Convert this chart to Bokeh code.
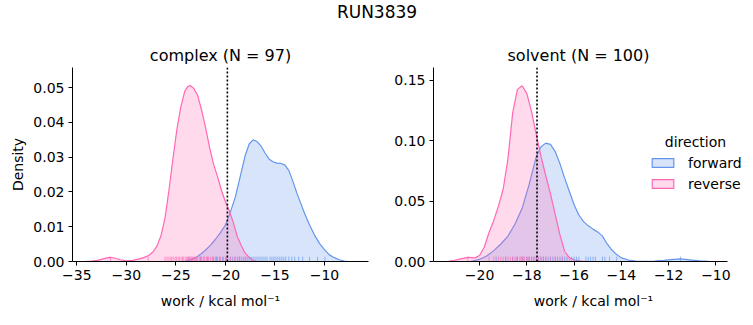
from bokeh.plotting import figure
from bokeh.models import Range1d, FixedTicker, Span, Legend, LegendItem, Label
from bokeh.layouts import column, row
from bokeh.embed import file_html
from bokeh.resources import INLINE

FONT = "DejaVu Sans"
suptitle = "RUN3839"
directions = ["forward", "reverse"]
colors = {"forward": "#6495ED", "reverse": "#FF69B4"}

# ---- complex panel ----
complex_title = "complex (N = 97)"
complex_xticks = [-35, -30, -25, -20, -15, -10]
complex_yticks = [0.0, 0.01, 0.02, 0.03, 0.04, 0.05]
complex_mean = -19.8

complex_fwd_x = [-24.2, -23.6, -23.0, -22.5, -22.0, -21.5, -21.0, -20.5, -20.0, -19.5, -19.0, -18.5,
                 -18.0, -17.6, -17.2, -16.8, -16.4, -16.0, -15.6, -15.2, -14.8, -14.4, -14.0, -13.6,
                 -13.2, -12.8, -12.4, -12.0, -11.5, -11.0, -10.5, -10.0, -9.5, -9.0, -8.5, -8.0, -7.6]
complex_fwd_y = [0.0, 0.0004, 0.0011, 0.0021, 0.0033, 0.0047, 0.0064, 0.0083, 0.0105, 0.0142, 0.0185,
                 0.0245, 0.0305, 0.0338, 0.035, 0.0345, 0.0332, 0.0312, 0.0295, 0.0287, 0.0283, 0.0282,
                 0.0278, 0.0262, 0.0232, 0.0198, 0.0168, 0.0138, 0.0105, 0.0076, 0.0052, 0.0034,
                 0.0019, 0.0011, 0.0005, 0.0001, 0.0]
complex_rev_x = [-34.2, -33.5, -32.8, -32.2, -31.7, -31.2, -30.6, -30.0, -29.4, -28.8, -28.2, -27.7,
                 -27.3, -26.9, -26.5, -26.1, -25.7, -25.3, -24.9, -24.5, -24.1, -23.8, -23.55, -23.2,
                 -22.8, -22.4, -22.0, -21.6, -21.2, -20.8, -20.4, -20.0, -19.6, -19.2, -18.8, -18.4,
                 -18.0, -17.6, -17.2, -16.8]
complex_rev_y = [0.0, 0.0001, 0.0004, 0.0009, 0.0012, 0.001, 0.0005, 0.0002, 0.0003, 0.0007, 0.0012,
                 0.0018, 0.0028, 0.0045, 0.0075, 0.0125, 0.0205, 0.0295, 0.038, 0.0445, 0.049, 0.0503,
                 0.0506, 0.0498, 0.0478, 0.0435, 0.0385, 0.0328, 0.028, 0.0245, 0.0205, 0.0172,
                 0.0145, 0.0112, 0.0072, 0.0046, 0.0024, 0.0012, 0.0003, 0.0]
complex_fwd_rug = [-23.7, -22.5, -21.8, -21.2, -20.9, -20.6, -20.3, -20.0, -19.8, -19.5, -19.3, -19.0,
                   -18.8, -18.6, -18.4, -18.2, -18.0, -17.8, -17.6, -17.4, -17.2, -17.0, -16.8, -16.6,
                   -16.4, -16.2, -16.0, -15.8, -15.5, -15.3, -15.1, -14.9, -14.7, -14.5, -14.3, -14.1,
                   -13.9, -13.6, -13.3, -13.0, -12.6, -12.2, -11.5, -10.7, -9.95]
complex_rev_rug = [-31.6, -27.8, -26.1, -25.9, -25.7, -25.5, -25.4, -25.2, -25.0, -24.9, -24.7, -24.6,
                   -24.4, -24.3, -24.2, -24.0, -23.9, -23.8, -23.7, -23.6, -23.5, -23.4, -23.3, -23.2,
                   -23.1, -23.0, -22.9, -22.8, -22.6, -22.5, -22.4, -22.2, -22.1, -21.9, -21.7, -21.5,
                   -21.3, -21.0, -20.8, -20.5, -20.2, -19.9, -19.5, -19.1, -18.6, -18.0]

# ---- solvent panel ----
solvent_title = "solvent (N = 100)"
solvent_xticks = [-20, -18, -16, -14, -12, -10]
solvent_yticks = [0.0, 0.05, 0.10, 0.15]
solvent_mean = -17.57

solvent_fwd_x = [-20.4, -20.0, -19.7, -19.4, -19.1, -18.8, -18.5, -18.2, -17.9, -17.6, -17.4, -17.2,
                 -17.0, -16.8, -16.6, -16.4, -16.2, -16.0, -15.8, -15.6, -15.4, -15.2, -15.0, -14.8,
                 -14.6, -14.4, -14.2, -14.0, -13.7, -13.4, -13.0, -12.6, -12.2, -11.9, -11.5, -11.1,
                 -10.7, -10.3, -10.0]
solvent_fwd_y = [0.0, 0.0018, 0.0045, 0.009, 0.0145, 0.021, 0.031, 0.044, 0.064, 0.087, 0.095, 0.098,
                 0.097, 0.091, 0.081, 0.069, 0.058, 0.047, 0.0385, 0.033, 0.0295, 0.0268, 0.0245,
                 0.021, 0.0145, 0.0095, 0.0057, 0.003, 0.0012, 0.0004, 0.0002, 0.0003, 0.0009, 0.0016,
                 0.0021, 0.0014, 0.0005, 0.0001, 0.0]
solvent_rev_x = [-21.4, -21.1, -20.8, -20.5, -20.2, -20.0, -19.8, -19.6, -19.4, -19.2, -19.0, -18.8,
                 -18.6, -18.4, -18.2, -18.0, -17.8, -17.6, -17.4, -17.2, -17.0, -16.8, -16.6, -16.4,
                 -16.2, -16.0, -15.7, -15.4]
solvent_rev_y = [0.0, 0.0008, 0.0022, 0.0034, 0.003, 0.005, 0.012, 0.024, 0.034, 0.046, 0.06, 0.085,
                 0.123, 0.1425, 0.1455, 0.139, 0.124, 0.105, 0.087, 0.071, 0.056, 0.039, 0.022, 0.0085,
                 0.003, 0.0012, 0.0003, 0.0]
solvent_fwd_rug = [-19.3, -18.9, -18.6, -18.4, -18.2, -18.0, -17.9, -17.8, -17.7, -17.6, -17.5, -17.4,
                   -17.3, -17.2, -17.1, -17.0, -16.9, -16.8, -16.7, -16.6, -16.5, -16.4, -16.3, -16.1,
                   -16.0, -15.9, -15.8, -15.5, -15.4, -15.3, -15.2, -15.1, -14.8, -14.7, -14.5, -14.2,
                   -11.5]
solvent_rev_rug = [-20.5, -19.6, -19.4, -19.2, -19.1, -19.0, -18.9, -18.8, -18.7, -18.6, -18.5, -18.45,
                   -18.4, -18.3, -18.25, -18.2, -18.15, -18.1, -18.0, -17.95, -17.9, -17.8, -17.7,
                   -17.6, -17.5, -17.4, -17.3, -17.2, -17.0, -16.8, -16.5, -16.2]

xlabel = "work / kcal mol\u207b\u00b9"
ylabel = "Density"


def minus(v, fmt):
    return (fmt % v).replace("-", "\u2212")


def panel(title, xr, axis_xr, yr, xticks, yticks, yfmt, curves, rugs, mean, width, mbl, mbr,
          show_ylabel):
    p = figure(width=width, height=299, output_backend="svg", toolbar_location=None,
               x_range=Range1d(*xr), y_range=Range1d(*yr),
               min_border_left=mbl, min_border_right=mbr, min_border_top=41, min_border_bottom=64)
    p.title.text = title
    p.title.align = "center"
    p.title.text_font = FONT
    p.title.text_font_size = "16px"
    p.title.text_font_style = "normal"
    p.title.text_color = "black"
    p.title.standoff = 5
    p.outline_line_color = None
    p.grid.visible = False
    p.background_fill_color = "white"
    renderers = {}
    for d in directions:
        xs, ys = curves[d]
        r = p.patch(xs, ys, fill_color=colors[d], fill_alpha=0.25,
                    line_color=colors[d], line_width=1.2)
        renderers[d] = r
    rug_h = 0.025 * (yr[1] - yr[0])
    for d in directions:
        vals = rugs[d]
        p.segment(x0=vals, y0=[0] * len(vals), x1=vals, y1=[rug_h] * len(vals),
                  line_color=colors[d], line_alpha=0.65, line_width=1)
    p.add_layout(Span(location=mean, dimension="height", line_color="black",
                      line_dash="2 2", line_width=1.6))
    for ax in (p.xaxis[0], p.yaxis[0]):
        ax.major_label_text_font = FONT
        ax.major_label_text_font_size = "14px"
        ax.major_label_text_color = "black"
        ax.axis_label_text_font = FONT
        ax.axis_label_text_font_size = "14px"
        ax.axis_label_text_font_style = "normal"
        ax.axis_label_text_color = "black"
        ax.minor_tick_line_color = None
        ax.major_tick_in = 0
        ax.major_tick_out = 4
        ax.axis_line_color = "black"
        ax.major_tick_line_color = "black"
    p.xaxis.bounds = axis_xr
    p.xaxis.ticker = FixedTicker(ticks=xticks)
    p.xaxis.major_label_overrides = {t: minus(t, "%d") for t in xticks}
    p.xaxis.axis_label = xlabel
    p.xaxis.major_label_standoff = 4
    p.xaxis.axis_label_standoff = 10
    p.yaxis.ticker = FixedTicker(ticks=yticks)
    p.yaxis.major_label_standoff = 4
    p.yaxis.major_label_overrides = {t: yfmt % t for t in yticks}
    if show_ylabel:
        p.yaxis.axis_label = ylabel
        p.yaxis.axis_label_standoff = 4
    return p, renderers


p1, r1 = panel(complex_title, (-35.44, -5.55), (-35.44, -5.55), (0, 0.0558),
               complex_xticks, complex_yticks, "%.2f",
               {"forward": (complex_fwd_x, complex_fwd_y), "reverse": (complex_rev_x, complex_rev_y)},
               {"forward": complex_fwd_rug, "reverse": complex_rev_rug},
               complex_mean, 385, 72, 17, True)
p2, r2 = panel(solvent_title, (-21.95, -8.41), (-21.95, -9.53), (0, 0.1606),
               solvent_xticks, solvent_yticks, "%.2f",
               {"forward": (solvent_fwd_x, solvent_fwd_y), "reverse": (solvent_rev_x, solvent_rev_y)},
               {"forward": solvent_fwd_rug, "reverse": solvent_rev_rug},
               solvent_mean, 368, 48, 0, False)
# the solvent title is centred over the drawn axes, not the widened frame
p2.title.align = "left"
p2.title.offset = 74

legend = Legend(items=[LegendItem(label=d, renderers=[r2[d]]) for d in directions],
                location=(216, 67), padding=0, margin=0, spacing=0,
                glyph_width=27, glyph_height=11, label_height=21, label_standoff=12,
                label_text_font=FONT, label_text_font_size="14px", label_text_color="black",
                border_line_alpha=0, background_fill_alpha=0)
p2.add_layout(legend)
p2.add_layout(Label(x=262, y=120, x_units="screen", y_units="screen", text="direction",
                    text_font=FONT, text_font_size="14px", text_align="center",
                    text_baseline="middle", text_color="black"))

header = figure(width=753, height=26, output_backend="svg", toolbar_location=None,
                min_border_left=0, min_border_right=0, min_border_top=0, min_border_bottom=0)
header.title.text = suptitle
header.title.align = "center"
header.title.text_font = FONT
header.title.text_font_size = "17px"
header.title.text_font_style = "normal"
header.title.text_color = "black"
header.axis.visible = False
header.grid.visible = False
header.outline_line_color = None
header.scatter([0], [0], alpha=0)

layout = column(header, row(p1, p2, spacing=0), spacing=0)
open("out.html", "w").write(file_html(layout, INLINE))
